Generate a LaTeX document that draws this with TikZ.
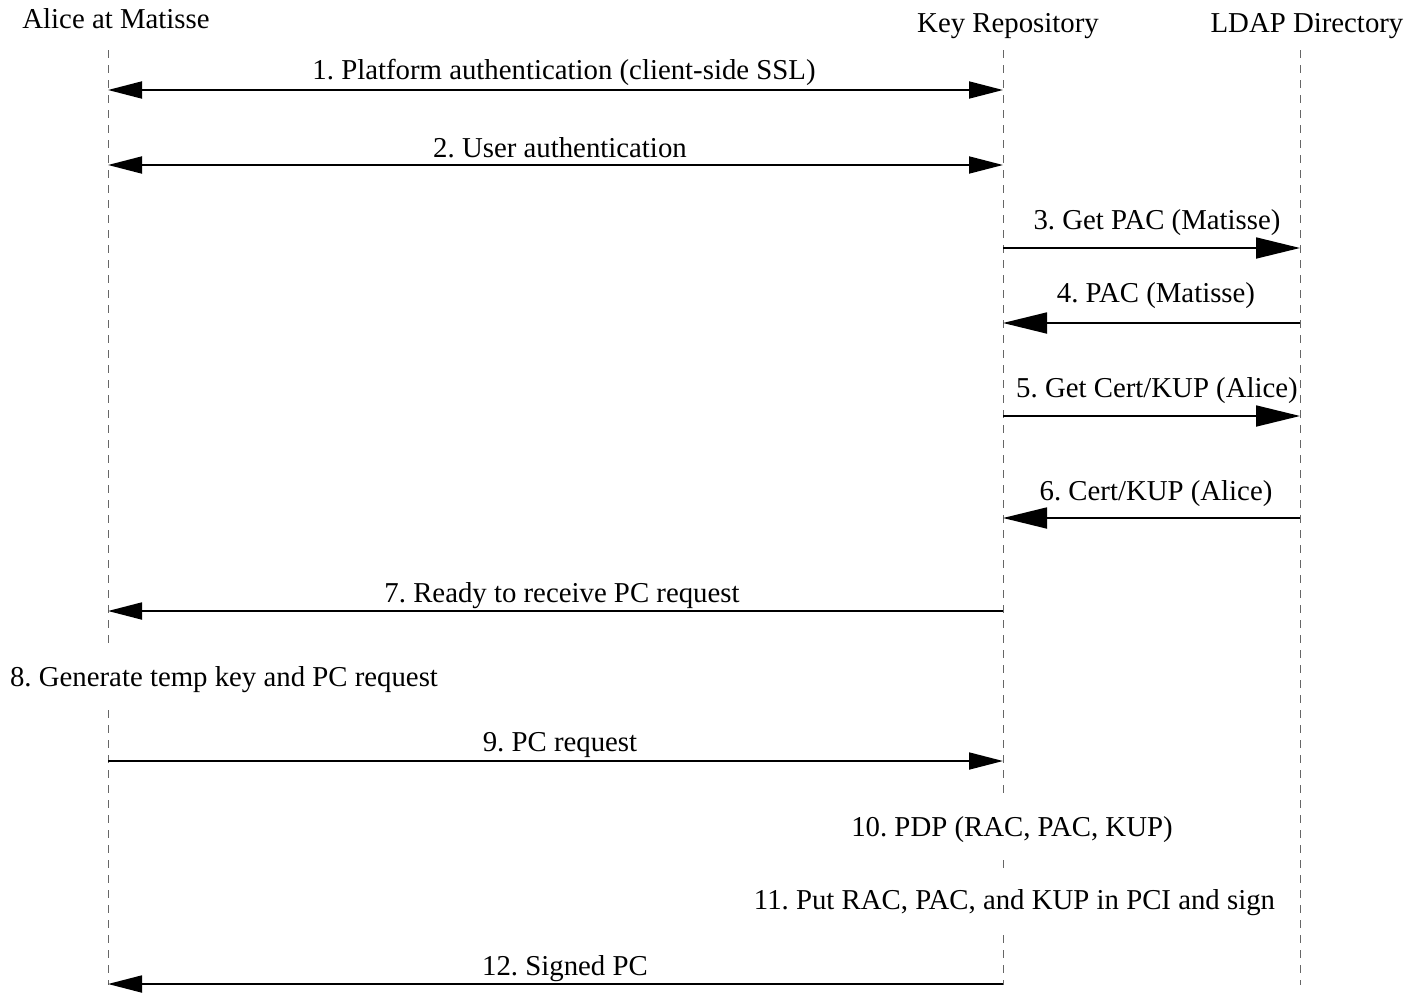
\documentclass[tikz,border=0pt]{standalone}
\usepackage{fontspec}
\setmainfont{Liberation Serif}
\usetikzlibrary{arrows.meta}
\frenchspacing
\begin{document}
\begin{tikzpicture}[x=1pt,y=-1pt,
  every node/.style={font=\fontsize{28.8}{34}\selectfont, inner sep=0pt},
  lifeline/.style={draw=black!60, dash pattern=on 8pt off 7pt, line width=1pt},
  msg/.style={line width=1.8pt, -{Triangle[length=34pt,width=17pt]}},
  bigmsg/.style={line width=1.8pt, -{Triangle[length=44pt,width=21pt]}},
  dmsg/.style={line width=1.8pt, {Triangle[length=34pt,width=17pt]}-{Triangle[length=34pt,width=17pt]}},
  lbl/.style={anchor=base},
  action/.style={anchor=base, fill=white, inner xsep=3pt, inner ysep=15pt, text height=24pt, text depth=5pt}
]
\useasboundingbox (0,0) rectangle (1422,993);
% headers
\node[lbl] (alice) at (116,28) {Alice at Matisse};
\node[lbl] (key) at (1008,32) {Key Repository};
\node[lbl] (ldap) at (1307,32) {LDAP Directory};
% lifelines
\coordinate (aT) at (108,50);  \coordinate (aB) at (108,985);
\coordinate (kT) at (1003,50); \coordinate (kB) at (1003,985);
\coordinate (lT) at (1300,50); \coordinate (lB) at (1300,985);
\draw[lifeline] (aT) -- (aB);
\draw[lifeline] (kT) -- (kB);
\draw[lifeline] (lT) -- (lB);
% actions (cover lifelines)
\node[action] (s8) at (224,686) {8. Generate temp key and PC request};
\node[action] (s10) at (1012,836) {10. PDP (RAC, PAC, KUP)};
\node[action] (s11) at (1014.5,909) {11. Put RAC, PAC, and KUP in PCI and sign};
% message end points
\coordinate (a1) at (108,90);  \coordinate (k1) at (1003,90);
\coordinate (a2) at (108,165); \coordinate (k2) at (1003,165);
\coordinate (k3) at (1003,248); \coordinate (l3) at (1300,248);
\coordinate (k4) at (1003,323); \coordinate (l4) at (1300,323);
\coordinate (k5) at (1003,416); \coordinate (l5) at (1300,416);
\coordinate (k6) at (1003,518); \coordinate (l6) at (1300,518);
\coordinate (a7) at (108,611); \coordinate (k7) at (1003,611);
\coordinate (a9) at (108,761); \coordinate (k9) at (1003,761);
\coordinate (a12) at (108,984); \coordinate (k12) at (1003,984);
% messages
\draw[dmsg] (a1) -- (k1);
\node[lbl] (m1) at (564,79.5) {1. Platform authentication (client-side SSL)};
\draw[dmsg] (a2) -- (k2);
\node[lbl] (m2) at (560,157.5) {2. User authentication};
\draw[bigmsg] (k3) -- (l3);
\node[lbl] (m3) at (1157,229.5) {3. Get PAC (Matisse)};
\draw[bigmsg] (l4) -- (k4);
\node[lbl] (m4) at (1156,302) {4. PAC (Matisse)};
\draw[bigmsg] (k5) -- (l5);
\node[lbl] (m5) at (1157,397.5) {5. Get Cert/KUP (Alice)};
\draw[bigmsg] (l6) -- (k6);
\node[lbl] (m6) at (1156,500.5) {6. Cert/KUP (Alice)};
\draw[msg] (k7) -- (a7);
\node[lbl] (m7) at (562,602.5) {7. Ready to receive PC request};
\draw[msg] (a9) -- (k9);
\node[lbl] (m9) at (560,751.5) {9. PC request};
\draw[msg] (k12) -- (a12);
\node[lbl] (m12) at (565,975.5) {12. Signed PC};
\end{tikzpicture}
\end{document}
